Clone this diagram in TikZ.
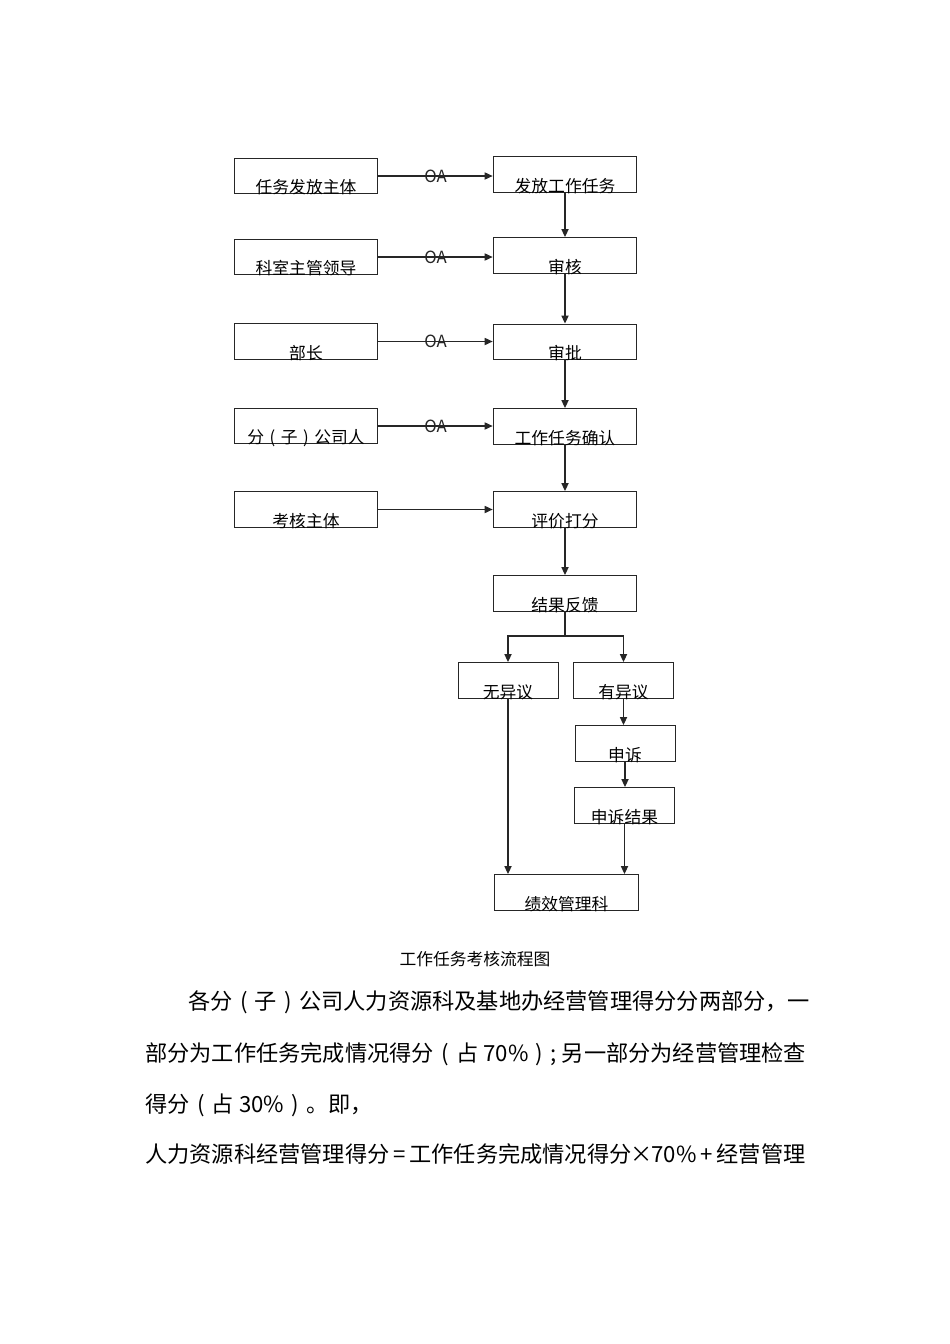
\documentclass[tikz,border=0pt]{standalone}
\usepackage{fontspec}
\setmainfont{Noto Sans CJK SC}
\usetikzlibrary{arrows.meta, positioning}
% centred full-width brackets
\newcommand\lpar{\makebox[1em]{(}}
\newcommand\rpar{\makebox[1em]{)}}

\begin{document}
\begin{tikzpicture}[x=0.626pt, y=-0.626pt,
    box/.style={draw=black!85, line width=0.6pt, minimum width=90pt, inner xsep=0pt, inner ysep=0pt, text height=22.5pt, text depth=0pt, font=\fontsize{10.5pt}{12pt}\selectfont},
    smallbox/.style={box, minimum width=62.6pt},
    flow/.style={-{Triangle[length=5pt, width=4.5pt]}, line width=0.7pt, black!85},
    oa/.style={font=\fontsize{10.5pt}{12pt}\selectfont, inner sep=0pt},
    body/.style={anchor=west, inner sep=0pt, font=\fontsize{13.9pt}{16pt}\selectfont}
  ]
  % page
  \fill[white] (0,0) rectangle (950,1344);
  \useasboundingbox (0,0) rectangle (950,1344);

  % who sends / approves (left column)
  \node[box] (src1) at (306,176) {任务发放主体};
  \node[box] (src2) at (306,257) {科室主管领导};
  \node[box] (src3) at (306,341.5) {部长};
  \node[box] (src4) at (306,426) {分\lpar 子\rpar 公司人};
  \node[box] (src5) at (306,509.5) {考核主体};

  % main flow (right column)
  \node[box] (step1) at (565,174.5) {发放工作任务};
  \node[box] (step2) at (565,255.5) {审核};
  \node[box] (step3) at (565,342) {审批};
  \node[box] (step4) at (565,426.5) {工作任务确认};
  \node[box] (step5) at (565,509.5) {评价打分};
  \node[box] (step6) at (565,593.5) {结果反馈};

  % feedback branches
  \node[smallbox] (noobj) at (508,680.5) {无异议};
  \node[smallbox] (obj) at (623.5,680.5) {有异议};
  \node[smallbox] (appeal) at (625,743.5) {申诉};
  \node[smallbox] (result) at (624.5,805.5) {申诉结果};
  \node[box] (perf) at (566.5,892.5) {绩效管理科};

  % OA links
  \draw[flow] (src1.east) -- (src1.east -| step1.west) node[oa, midway] (oa1) {OA};
  \draw[flow] (src2.east) -- (src2.east -| step2.west) node[oa, midway] (oa2) {OA};
  \draw[flow] (src3.east) -- (src3.east -| step3.west) node[oa, midway] (oa3) {OA};
  \draw[flow] (src4.east) -- (src4.east -| step4.west) node[oa, midway] (oa4) {OA};
  \draw[flow] (src5.east) -- (src5.east -| step5.west);

  % down the main column
  \draw[flow] (step1.south) -- (step2.north);
  \draw[flow] (step2.south) -- (step3.north);
  \draw[flow] (step3.south) -- (step4.north);
  \draw[flow] (step4.south) -- (step5.north);
  \draw[flow] (step5.south) -- (step6.north);

  % split into the two results
  \coordinate (split) at (565,636);
  \draw[line width=0.7pt, black!85] (step6.south) -- (split);
  \draw[flow] (split) -| (noobj.north);
  \draw[flow] (split) -| (obj.north);
  \draw[flow] (obj.south) -- (obj.south |- appeal.north);
  \draw[flow] (appeal.south) -- (appeal.south |- result.north);
  \draw[flow] (noobj.south) -- (noobj.south |- perf.north);
  \draw[flow] (result.south) -- (result.south |- perf.north);

  % caption and text below
  \node[font=\fontsize{10.5pt}{12pt}\selectfont] (caption) at (475,959) {工作任务考核流程图};
  \node[body] (line1) at (188,1002) {各分\lpar 子\rpar 公司人力资源科及基地办经营管理得分分两部分，一};
  \node[body] (line2) at (145,1054) {部分为工作任务完成情况得分\lpar 占 70\%\rpar; 另一部分为经营管理检查};
  \node[body] (line3) at (145,1105) {得分\lpar 占 30\%\rpar。即，};
  \node[body] (line4) at (145,1154) {人力资源科经营管理得分\makebox[0.9em]{=}工作任务完成情况得分\makebox[0.9em]{×}70\%\makebox[0.9em]{+}经营管理};
\end{tikzpicture}
\end{document}
